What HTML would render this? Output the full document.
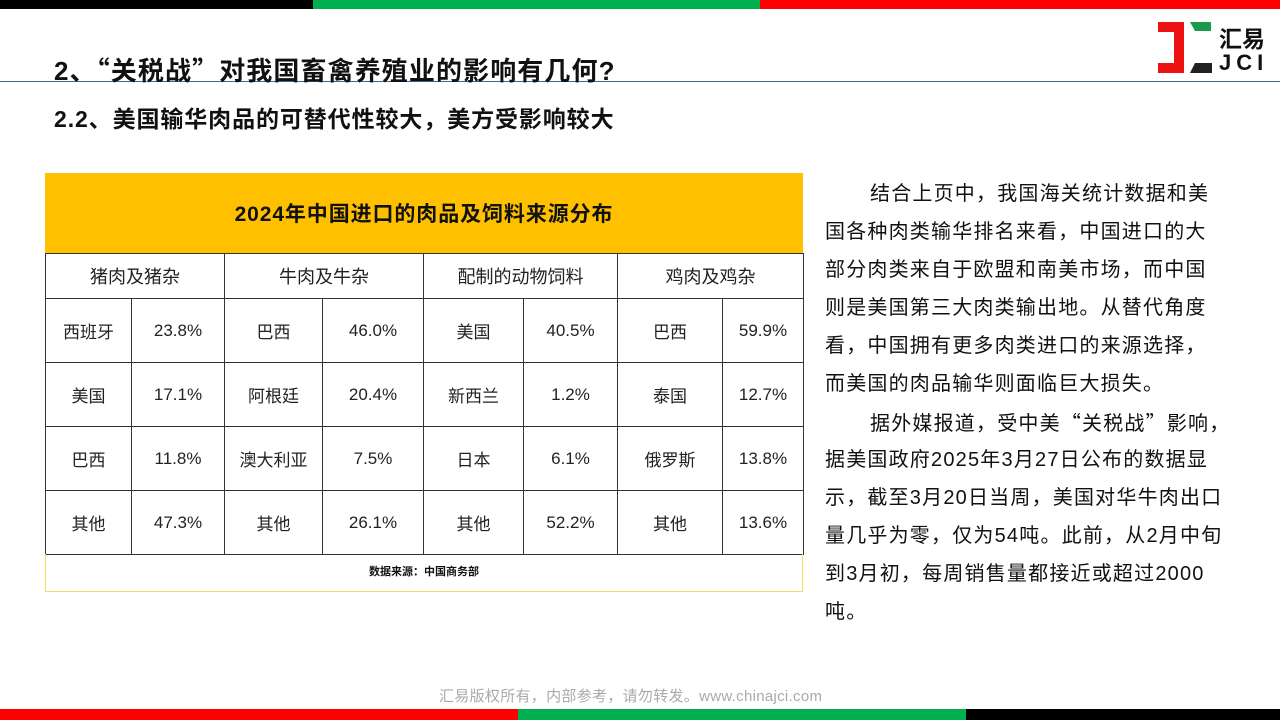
<!DOCTYPE html>
<html><head><meta charset="utf-8"><style>
*{margin:0;padding:0;box-sizing:border-box}
body{width:1280px;height:720px;position:relative;background:#fff;font-family:"Liberation Sans","Noto Sans CJK SC",sans-serif;overflow:hidden}
.a{position:absolute}
.q{font-family:"Noto Sans CJK SC",sans-serif}
table{position:absolute;left:45px;top:253px;width:758px;border-collapse:collapse;table-layout:fixed}
td{border:1px solid #333;text-align:center;font-size:17px;color:#222;padding:0}
tr.h td{height:45px;font-size:18px}
tr.r td{height:64px}
.ln{position:absolute;left:825px;font-size:20px;letter-spacing:1.2px;color:#111;line-height:38px;white-space:nowrap}
</style></head><body>
<div class="a" style="left:0;top:0;width:313px;height:9px;background:#000"></div>
<div class="a" style="left:313px;top:0;width:447px;height:9px;background:#00b050"></div>
<div class="a" style="left:760px;top:0;width:520px;height:9px;background:#f00"></div>
<div class="a" style="left:0;top:709px;width:518px;height:11px;background:#f00"></div>
<div class="a" style="left:518px;top:709px;width:448px;height:11px;background:#00b050"></div>
<div class="a" style="left:966px;top:709px;width:314px;height:11px;background:#000"></div>
<div class="a" style="left:0;top:81px;width:1280px;height:1px;background:#3a6a96"></div>
<div class="a" style="left:54px;top:51px;font-size:26px;font-weight:bold;color:#111;letter-spacing:1.1px">2、<span class="q">“</span>关税战<span class="q">”</span>对我国畜禽养殖业的影响有几何?</div>
<div class="a" style="left:54px;top:100px;font-size:23px;font-weight:bold;color:#111;letter-spacing:0.9px">2.2、美国输华肉品的可替代性较大，美方受影响较大</div>
<svg class="a" style="left:1155px;top:18px" width="62" height="60">
<polygon points="3,4 29,4 29,55 3,55 3,45 19,45 19,14 3,14" fill="#e11"/>
<polygon points="35,4 56,4 56,13 40,13" fill="#1a9a4a"/>
<polygon points="40,45 57,45 57,55 35,55" fill="#222"/>
</svg>
<div class="a" style="left:1219px;top:20px;font-size:23px;font-weight:bold;color:#111">汇易</div>
<div class="a" style="left:1219px;top:50px;font-size:22px;font-weight:bold;color:#111;letter-spacing:5px">JCI</div>
<div class="a" style="left:45px;top:173px;width:758px;height:80px;background:#ffc000;font-size:21px;letter-spacing:0.9px;font-weight:bold;text-align:center;line-height:84px;color:#111">2024年中国进口的肉品及饲料来源分布</div>
<table>
<colgroup><col style="width:86px"><col style="width:93px"><col style="width:98px"><col style="width:101px"><col style="width:100px"><col style="width:94px"><col style="width:105px"><col style="width:81px"></colgroup>
<tr class="h"><td colspan="2">猪肉及猪杂</td><td colspan="2">牛肉及牛杂</td><td colspan="2">配制的动物饲料</td><td colspan="2">鸡肉及鸡杂</td></tr>
<tr class="r"><td>西班牙</td><td>23.8%</td><td>巴西</td><td>46.0%</td><td>美国</td><td>40.5%</td><td>巴西</td><td>59.9%</td></tr>
<tr class="r"><td>美国</td><td>17.1%</td><td>阿根廷</td><td>20.4%</td><td>新西兰</td><td>1.2%</td><td>泰国</td><td>12.7%</td></tr>
<tr class="r"><td>巴西</td><td>11.8%</td><td>澳大利亚</td><td>7.5%</td><td>日本</td><td>6.1%</td><td>俄罗斯</td><td>13.8%</td></tr>
<tr class="r"><td>其他</td><td>47.3%</td><td>其他</td><td>26.1%</td><td>其他</td><td>52.2%</td><td>其他</td><td>13.6%</td></tr>
</table>
<div class="a" style="left:45px;top:554px;width:758px;height:38px;border:1px solid #ffd966;border-top:none;font-size:11px;font-weight:bold;text-align:center;line-height:36px;color:#111">数据来源：中国商务部</div>
<div class="ln" style="top:175px;left:870px">结合上页中，我国海关统计数据和美</div>
<div class="ln" style="top:213px">国各种肉类输华排名来看，中国进口的大</div>
<div class="ln" style="top:251px">部分肉类来自于欧盟和南美市场，而中国</div>
<div class="ln" style="top:289px">则是美国第三大肉类输出地。从替代角度</div>
<div class="ln" style="top:327px">看，中国拥有更多肉类进口的来源选择，</div>
<div class="ln" style="top:365px">而美国的肉品输华则面临巨大损失。</div>
<div class="ln" style="top:403px;left:870px">据外媒报道，受中美<span class="q">“</span>关税战<span class="q">”</span>影响，</div>
<div class="ln" style="top:441px">据美国政府2025年3月27日公布的数据显</div>
<div class="ln" style="top:479px">示，截至3月20日当周，美国对华牛肉出口</div>
<div class="ln" style="top:517px">量几乎为零，仅为54吨。此前，从2月中旬</div>
<div class="ln" style="top:555px">到3月初，每周销售量都接近或超过2000</div>
<div class="ln" style="top:593px">吨。</div>
<div class="a" style="left:439px;top:685px;font-size:15px;color:#aaa;letter-spacing:0.3px">汇易版权所有，内部参考，请勿转发。www.chinajci.com</div>
</body></html>
